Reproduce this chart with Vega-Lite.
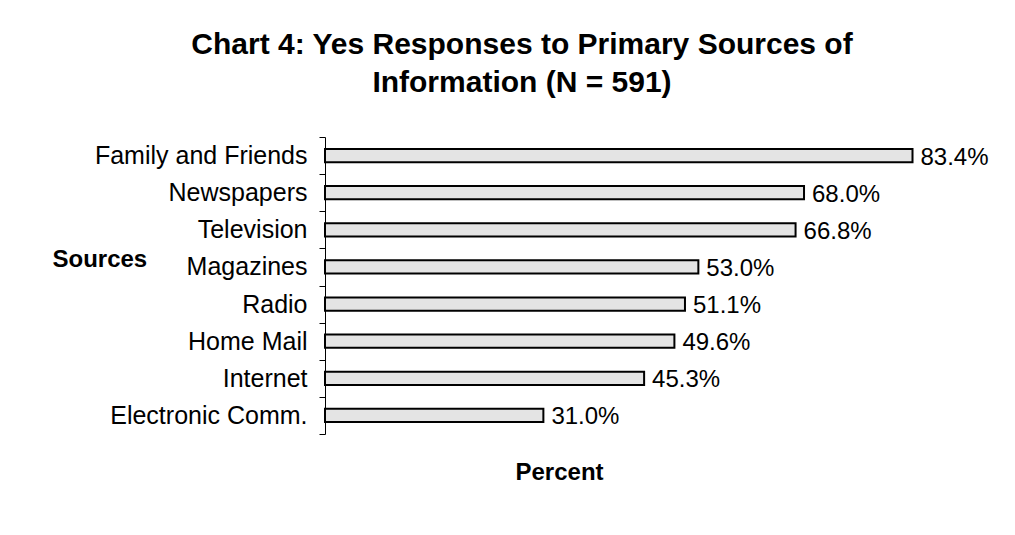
{
  "$schema": "https://vega.github.io/schema/vega-lite/v6.json",
  "autosize": {"type": "none"},
  "padding": {"left": 325, "top": 137, "right": 56, "bottom": 101},
  "width": 634,
  "height": 297,
  "background": "white",
  "title": {
    "text": ["Chart 4: Yes Responses to Primary Sources of", "Information (N = 591)"],
    "font": "Liberation Sans",
    "fontSize": 30,
    "fontWeight": "bold",
    "color": "black",
    "anchor": "middle",
    "frame": "group",
    "dx": -120,
    "lineHeight": 38,
    "offset": 27
  },
  "data": {
    "values": [
      {"source": "Family and Friends", "pct": 0.834},
      {"source": "Newspapers", "pct": 0.680},
      {"source": "Television", "pct": 0.668},
      {"source": "Magazines", "pct": 0.530},
      {"source": "Radio", "pct": 0.511},
      {"source": "Home Mail\u00a0", "pct": 0.496},
      {"source": "Internet", "pct": 0.453},
      {"source": "Electronic Comm.", "pct": 0.310}
    ]
  },
  "encoding": {
    "y": {
      "field": "source",
      "type": "nominal",
      "sort": null,
      "scale": {"paddingInner": 0, "paddingOuter": 0},
      "axis": {
        "title": "Sources",
        "titleAngle": 0,
        "titleAlign": "left",
        "titleBaseline": "alphabetic",
        "titleX": -273,
        "titleY": 129,
        "titleFont": "Liberation Sans",
        "titleFontSize": 24,
        "titleFontWeight": "bold",
        "titleColor": "black",
        "labelFont": "Liberation Sans",
        "labelFontSize": 25,
        "labelColor": "black",
        "labelPadding": 12,
        "labelLimit": 400,
        "tickBand": "extent",
        "tickSize": 6,
        "tickColor": "black",
        "tickWidth": 1,
        "domainColor": "black",
        "domainWidth": 1,
        "grid": false
      }
    },
    "x": {
      "field": "pct",
      "type": "quantitative",
      "scale": {"domain": [0, 0.9], "nice": false},
      "axis": {
        "title": "Percent",
        "labels": false,
        "ticks": false,
        "domain": false,
        "grid": false,
        "titleAlign": "center",
        "titleBaseline": "alphabetic",
        "titleX": 234,
        "titleY": 45,
        "titleFont": "Liberation Sans",
        "titleFontSize": 24,
        "titleFontWeight": "bold",
        "titleColor": "black"
      }
    }
  },
  "layer": [
    {
      "mark": {
        "type": "bar",
        "height": {"band": 0.36},
        "fill": "#e4e4e4",
        "stroke": "black",
        "strokeWidth": 2
      }
    },
    {
      "mark": {
        "type": "text",
        "align": "left",
        "baseline": "middle",
        "dx": 8,
        "dy": 2,
        "font": "Liberation Sans",
        "fontSize": 24,
        "color": "black"
      },
      "encoding": {
        "text": {"field": "pct", "type": "quantitative", "format": ".1%"}
      }
    }
  ],
  "config": {
    "view": {"stroke": null}
  }
}
